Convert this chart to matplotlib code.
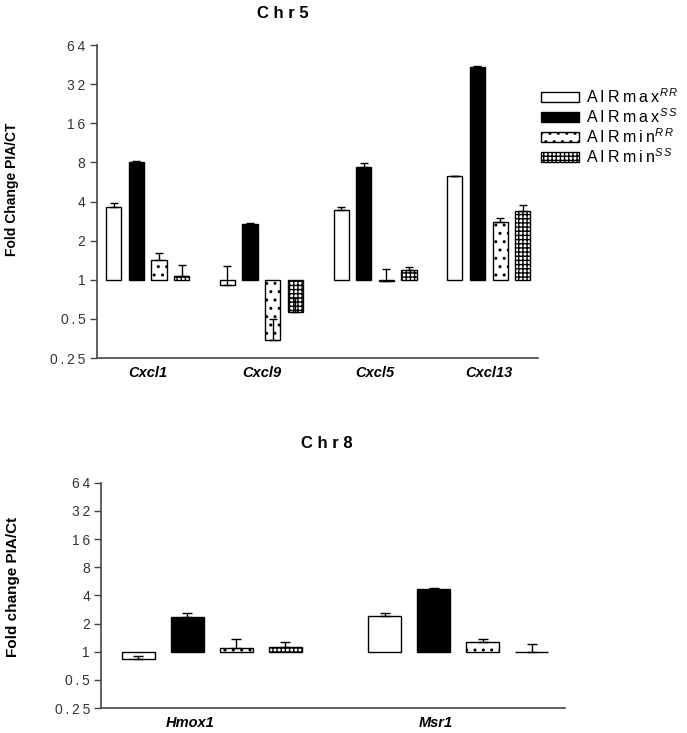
import numpy as np
import matplotlib
matplotlib.use("Agg")
import matplotlib.pyplot as plt
from matplotlib.patches import Patch

plt.rcParams['font.family'] = ['Liberation Sans', 'DejaVu Sans']
plt.rcParams['mathtext.fontset'] = 'custom'
plt.rcParams['mathtext.rm'] = 'Liberation Sans'
plt.rcParams['mathtext.it'] = 'Liberation Sans:italic'
plt.rcParams['hatch.linewidth'] = 1.0

series = ["AIRmaxRR", "AIRmaxSS", "AIRminRR", "AIRminSS"]
legend_labels = ["A\u2009I\u2009R\u2009m\u2009a\u2009x$^{\\mathit{R\\,R}}$",
                 "A\u2009I\u2009R\u2009m\u2009a\u2009x$^{\\mathit{S\\,S}}$",
                 "A\u2009I\u2009R\u2009m\u2009i\u2009n$^{\\mathit{R\\,R}}$",
                 "A\u2009I\u2009R\u2009m\u2009i\u2009n$^{\\mathit{S\\,S}}$"]

# Chr5 data
genes5 = ["Cxcl1", "Cxcl9", "Cxcl5", "Cxcl13"]
vals5 = {
    "AIRmaxRR": [3.65, 0.915, 3.46, 6.3],
    "AIRmaxSS": [8.0, 2.68, 7.4, 43.6],
    "AIRminRR": [1.41, 0.345, 0.98, 2.76],
    "AIRminSS": [1.07, 0.56, 1.19, 3.4],
}
err5 = {
    "AIRmaxRR": [3.9, 1.27, 3.6, 6.3],
    "AIRmaxSS": [8.15, 2.74, 7.9, 44.5],
    "AIRminRR": [1.6, 0.5, 1.22, 3.0],
    "AIRminSS": [1.3, 0.72, 1.25, 3.73],
}

# Chr8 data
genes8 = ["Hmox1", "Msr1"]
vals8 = {
    "AIRmaxRR": [0.84, 2.41],
    "AIRmaxSS": [2.35, 4.65],
    "AIRminRR": [1.10, 1.26],
    "AIRminSS": [1.13, 1.0],
}
err8 = {
    "AIRmaxRR": [0.91, 2.62],
    "AIRmaxSS": [2.6, 4.76],
    "AIRminRR": [1.36, 1.38],
    "AIRminSS": [1.28, 1.22],
}

yticks = [0.25, 0.5, 1, 2, 4, 8, 16, 32, 64]
ytick_labels = ["0.25", "0.5", "1", "2", "4", "8", "16", "32", "64"]

styles = {
    "AIRmaxRR": dict(facecolor="white", hatch=None),
    "AIRmaxSS": dict(facecolor="black", hatch=None),
    "AIRminRR": dict(facecolor="white", hatch=".."),
    "AIRminSS": dict(facecolor="white", hatch="++++"),
}

def spaced(s):
    return "\u2009".join(list(s))

W, H = 687, 733
fig = plt.figure(figsize=(W / 100, H / 100), dpi=100)

def px_axes(l, r, t, b):
    return fig.add_axes([l / W, 1 - b / H, (r - l) / W, (b - t) / H])

def draw(ax, genes, vals, errs, capsize, label_offset, ylab, ylab_x, ylab_y, ylab_fs):
    n = len(genes)
    x = np.arange(n)
    off = 0.199
    width = 0.133
    for i, s in enumerate(series):
        xi = x + (i - 1.5) * off
        v = np.array(vals[s])
        st = styles[s]
        ax.bar(xi, v - 1, bottom=1, width=width, facecolor=st["facecolor"],
               edgecolor="black", linewidth=1.0, hatch=st["hatch"], zorder=2)
        e = np.array(errs[s])
        ax.errorbar(xi, v, yerr=[np.zeros(n), e - v], fmt="none", ecolor="black",
                    elinewidth=1.0, capsize=capsize, capthick=1.0, zorder=3)
    ax.set_yscale("log", base=2)
    ax.set_ylim(0.25, 64)
    ax.set_xlim(-0.45, n - 0.567)
    ax.set_yticks(yticks)
    ax.set_yticklabels([spaced(t) for t in ytick_labels], fontsize=10, color="#333333")
    ax.yaxis.set_minor_locator(matplotlib.ticker.NullLocator())
    ax.set_xticks(x + label_offset)
    ax.set_xticklabels(genes, fontsize=10.5, fontweight="bold", fontstyle="italic")
    ax.tick_params(axis="x", length=0, pad=6)
    ax.tick_params(axis="y", length=5, width=1.0, color="#444444", pad=3)
    for sp in ["top", "right"]:
        ax.spines[sp].set_visible(False)
    for sp in ["left", "bottom"]:
        ax.spines[sp].set_linewidth(1.2)
        ax.spines[sp].set_color("#444444")
    fig.text(ylab_x / W, 1 - ylab_y / H, ylab, rotation=90, fontsize=ylab_fs,
             fontweight="bold", ha="center", va="center")

ax1 = px_axes(96.5, 538, 45, 358)
draw(ax1, genes5, vals5, err5, 3.0, 0.0, "Fold Change PIA/CT", 12, 189, 10)
fig.text(283 / W, 1 - 13 / H, "C h r 5", fontsize=12, fontweight="bold",
         ha="center", va="center")

ax2 = px_axes(101, 565, 482.7, 708)
draw(ax2, genes8, vals8, err8, 3.5, -0.09, "Fold change PIA/Ct", 13, 587, 11)
fig.text(327 / W, 1 - 443 / H, "C h r 8", fontsize=12, fontweight="bold",
         ha="center", va="center")

handles = [Patch(facecolor=styles[s]["facecolor"], edgecolor="black",
                 hatch=styles[s]["hatch"], linewidth=1.0) for s in series]
fig.legend(handles, legend_labels, loc="upper left",
           bbox_to_anchor=(541 / W, 1 - 87 / H), frameon=False, fontsize=11.5,
           handlelength=2.4, handleheight=0.5, handletextpad=0.4,
           labelspacing=0.08, borderpad=0, borderaxespad=0)

fig.savefig("out.png", dpi=100)
